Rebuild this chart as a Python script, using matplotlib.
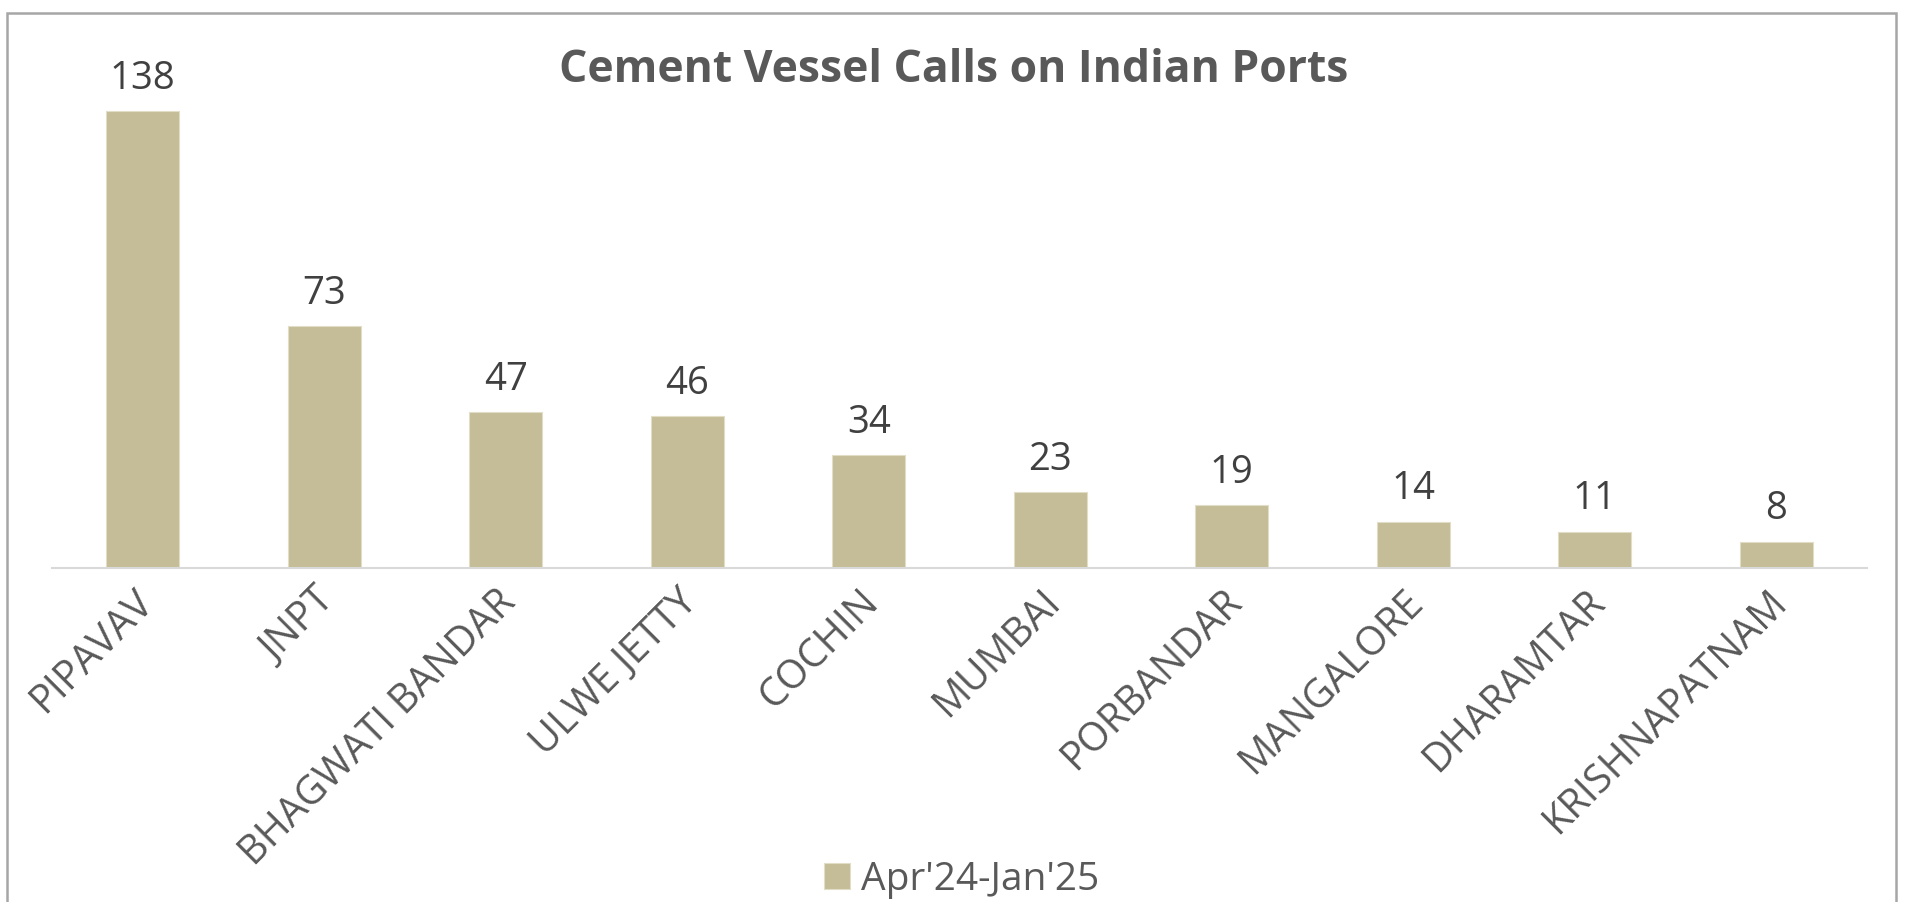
import matplotlib.pyplot as plt
import matplotlib.transforms as mtransforms
from matplotlib.patches import Rectangle

# data
ports = ['PIPAVAV', 'JNPT', 'BHAGWATI BANDAR', 'ULWE JETTY', 'COCHIN',
         'MUMBAI', 'PORBANDAR', 'MANGALORE', 'DHARAMTAR', 'KRISHNAPATNAM']
calls = [138, 73, 47, 46, 34, 23, 19, 14, 11, 8]
series_name = "Apr'24-Jan'25"
title = 'Cement Vessel Calls on Indian Ports'

bar_color = '#C4BD97'
text_dark = '#404040'
text_grey = '#595959'

plt.rcParams['font.family'] = ['Open Sans', 'DejaVu Sans']

W, H = 1907, 902
fig = plt.figure(figsize=(W / 100, H / 100), dpi=100)

# plot area in pixels: baseline at y=568, x from 52 to 1867
ymax = 150
px_per_unit = 3.31
ax = fig.add_axes([52 / W, (H - 568) / H, 1815 / W, ymax * px_per_unit / H])

x = range(len(ports))
bars = ax.bar(x, calls, width=0.4, color=bar_color, edgecolor='#E2DDC6', linewidth=0.8, zorder=2)
ax.set_xlim(-0.5, len(ports) - 0.5)
ax.set_ylim(0, ymax)

# value labels above the bars
for xi, v in zip(x, calls):
    ax.annotate(str(v), (xi, v), xytext=(0, 16), textcoords='offset points',
                ha='center', va='baseline', fontsize=27.5, color=text_dark)

ax.set_xticks(list(x))
ax.set_xticklabels(ports, rotation=45, ha='right', rotation_mode='anchor',
                   fontsize=28.5, color=text_grey)
ax.tick_params(axis='x', length=0, pad=10)
# nudge the rotated labels a little to the left, like the original
shift = mtransforms.ScaledTranslation(-10 / 100, 0, fig.dpi_scale_trans)
for lbl in ax.get_xticklabels():
    lbl.set_transform(lbl.get_transform() + shift)
ax.set_yticks([])
for s in ['left', 'right', 'top']:
    ax.spines[s].set_visible(False)
ax.spines['bottom'].set_color('#D9D9D9')
ax.spines['bottom'].set_linewidth(1.5)

fig.text(0.5, (H - 71) / H, title, ha='center', va='center', fontsize=32,
         fontweight='bold', color=text_grey)

fig.legend([bars], [series_name], loc='center', bbox_to_anchor=(962 / W, 22 / H),
           frameon=False, fontsize=28, labelcolor=text_grey,
           handlelength=0.65, handleheight=0.65, handletextpad=0.3)

# outer chart frame (bottom edge is cut off in the reference)
fig.patches.append(Rectangle((7.5 / W, -0.05), (1896 - 7.5) / W, (H - 13 + 45) / H,
                             transform=fig.transFigure, fill=False,
                             edgecolor='#A6A6A6', linewidth=1.8))

fig.savefig('out.png', dpi=100)
